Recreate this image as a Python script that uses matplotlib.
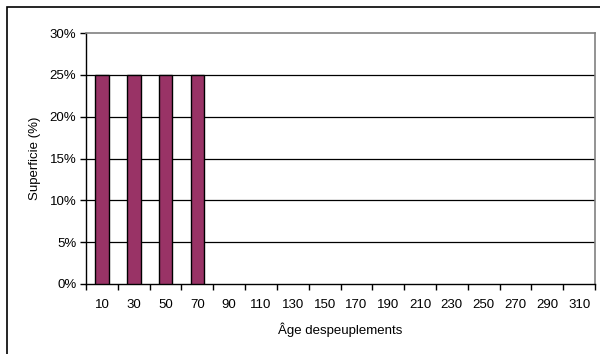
import matplotlib
matplotlib.use("Agg")
import matplotlib.pyplot as plt
import numpy as np
from matplotlib.patches import Rectangle

plt.rcParams['font.family'] = ['Liberation Sans', 'DejaVu Sans']

ages = [10, 30, 50, 70, 90, 110, 130, 150, 170, 190, 210, 230, 250, 270, 290, 310]
superficie = [25, 25, 25, 25, 0, 0, 0, 0, 0, 0, 0, 0, 0, 0, 0, 0]
yticks = [0, 5, 10, 15, 20, 25, 30]

W, H = 600, 354
fig = plt.figure(figsize=(W / 100, H / 100), dpi=100)
ax = fig.add_axes([86 / W, 1 - 284 / H, (595 - 86) / W, (284 - 33) / H])

# outer chart frame (runs off the right and bottom edges)
fig.patches.append(Rectangle((7 / W, -0.05), 1.2, 1 - 7 / H + 0.05,
                             transform=fig.transFigure, fill=False,
                             edgecolor='black', linewidth=1.2))

x = np.arange(len(ages))
vals = np.array(superficie, dtype=float)
nz = vals > 0  # empty classes get no outline
ax.bar(x[nz], vals[nz], width=0.43, color='#993366', edgecolor='black',
       linewidth=1.0, zorder=3)

ax.set_xlim(-0.5, len(ages) - 0.5)
ax.set_ylim(0, 30)
ax.set_yticks(yticks)
ax.set_yticklabels([f"{v}%" for v in yticks])
ax.set_xticks(x)
ax.set_xticklabels([str(a) for a in ages])
ax.set_xticks(np.arange(len(ages) + 1) - 0.5, minor=True)

for v in yticks[1:-1]:
    ax.axhline(v, color='black', linewidth=0.9, zorder=1)

ax.tick_params(axis='x', which='major', length=0, pad=11, labelsize=9.5)
ax.tick_params(axis='x', which='minor', length=4, width=1, direction='out')
ax.tick_params(axis='y', length=4, width=1, direction='out', pad=3, labelsize=9.5)

for s in ['top', 'right']:
    ax.spines[s].set_color('#808080')
    ax.spines[s].set_linewidth(1.2)
for s in ['left', 'bottom']:
    ax.spines[s].set_color('black')
    ax.spines[s].set_linewidth(1.0)

ax.set_xlabel("Âge despeuplements", fontsize=9.5, labelpad=8)
ax.set_ylabel("Superficie (%)", fontsize=9.5, labelpad=6)

fig.savefig("out.png", dpi=100)
